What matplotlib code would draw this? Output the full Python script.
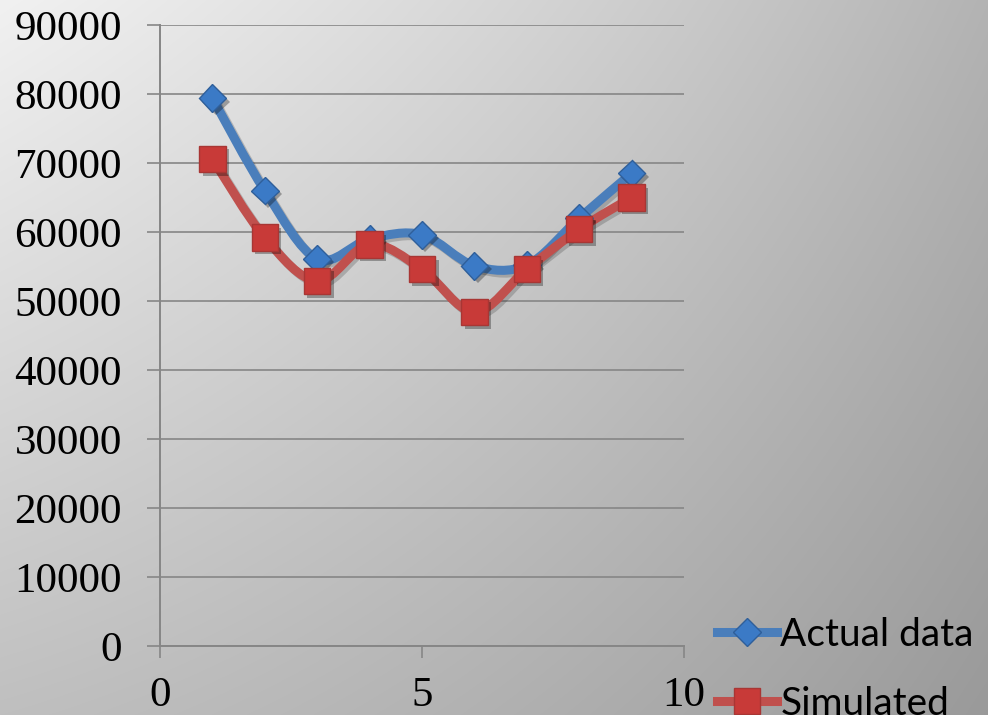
import numpy as np
import matplotlib.pyplot as plt
import matplotlib.patheffects as pe
from matplotlib.path import Path
from matplotlib.patches import PathPatch
from matplotlib.lines import Line2D

# Series values
x_vals = [1, 2, 3, 4, 5, 6, 7, 8, 9]
actual = [79400, 66000, 56100, 59000, 59600, 55100, 55200, 62000, 68500]
simulated = [70600, 59200, 52900, 58200, 54600, 48400, 54600, 60400, 65000]
series_names = ["Actual data", "Simulated"]

y_ticks = [0, 10000, 20000, 30000, 40000, 50000, 60000, 70000, 80000, 90000]
x_ticks = [0, 5, 10]

blue_line = '#4a7ebb'
blue_face = '#3b7ac6'
blue_edge = '#2f5f9a'
red_line = '#c0504d'
red_face = '#c83a38'
red_edge = '#a83634'
grid_col = '#868686'


def smooth_path(xs, ys):
    # Bezier smoothing like spreadsheet "smoothed line" charts
    pts = np.column_stack([xs, ys]).astype(float)
    ext = np.vstack([pts[0], pts, pts[-1]])
    verts = [pts[0]]
    codes = [Path.MOVETO]
    for i in range(len(pts) - 1):
        p0, p1, p2, p3 = ext[i], ext[i + 1], ext[i + 2], ext[i + 3]
        c1 = p1 + (p2 - p0) / 6.0
        c2 = p2 - (p3 - p1) / 6.0
        verts += [c1, c2, p2]
        codes += [Path.CURVE4] * 3
    return Path(verts, codes)


W, H = 988, 715
fig = plt.figure(figsize=(W / 100, H / 100), dpi=100)

# grey gradient background
bg_ax = fig.add_axes([0, 0, 1, 1], zorder=-1)
yy, xx = np.mgrid[0:H, 0:W]
shade = 241 - 0.045 * xx - 0.07 * yy - 1.8e-5 * xx ** 2 + 3.5e-5 * xx * yy
shade = np.clip(shade, 0, 255) / 255.0
bg_ax.imshow(np.dstack([shade, shade, shade]), aspect='auto', interpolation='bilinear')
bg_ax.axis('off')

ax = fig.add_axes([160 / W, 69 / H, 524 / W, 621 / H])
ax.set_facecolor('none')
ax.set_xlim(0, 10)
ax.set_ylim(0, 90000)

line_shadow = [pe.SimpleLineShadow(offset=(2, -2), shadow_color='k', alpha=0.18), pe.Normal()]
mark_shadow = [pe.SimplePatchShadow(offset=(2.5, -2.5), shadow_rgbFace='k', alpha=0.3), pe.Normal()]

for ys, lc in [(actual, blue_line), (simulated, red_line)]:
    patch = PathPatch(smooth_path(x_vals, ys), facecolor='none', edgecolor=lc,
                      lw=6.5, capstyle='round', joinstyle='round', zorder=3)
    patch.set_path_effects(line_shadow)
    ax.add_patch(patch)

ax.plot(x_vals, actual, ls='none', marker='D', ms=14, mfc=blue_face, mec=blue_edge,
        mew=1.0, zorder=4, path_effects=mark_shadow)
ax.plot(x_vals, simulated, ls='none', marker='s', ms=19, mfc=red_face, mec=red_edge,
        mew=1.0, zorder=5, path_effects=mark_shadow)

# axes styling
ax.set_yticks(y_ticks)
ax.set_xticks(x_ticks)
ax.yaxis.grid(True, color=grid_col, lw=1.2)
ax.set_axisbelow(True)
for s in ['top', 'right']:
    ax.spines[s].set_visible(False)
for s in ['left', 'bottom']:
    ax.spines[s].set_color(grid_col)
    ax.spines[s].set_linewidth(1.4)
ax.tick_params(axis='y', direction='out', length=9.4, width=1.2, color=grid_col, pad=18)
ax.tick_params(axis='x', direction='out', length=8.6, width=1.2, color=grid_col, pad=13)
for lab in ax.get_xticklabels() + ax.get_yticklabels():
    lab.set_fontfamily('Liberation Serif')
    lab.set_fontsize(31)
    lab.set_color('black')

handles = [
    Line2D([], [], color=blue_line, lw=6.5, marker='D', ms=14, mfc=blue_face, mec=blue_edge),
    Line2D([], [], color=red_line, lw=6.5, marker='s', ms=19, mfc=red_face, mec=red_edge),
]
fig.legend(handles, series_names, loc='upper left', bbox_to_anchor=(717 / W, 0.137),
           frameon=False, borderpad=0, borderaxespad=0, handlelength=1.55,
           handletextpad=0.08, labelspacing=0.85,
           prop={'family': 'Lato', 'size': 28})

fig.savefig('out.png', dpi=100)
